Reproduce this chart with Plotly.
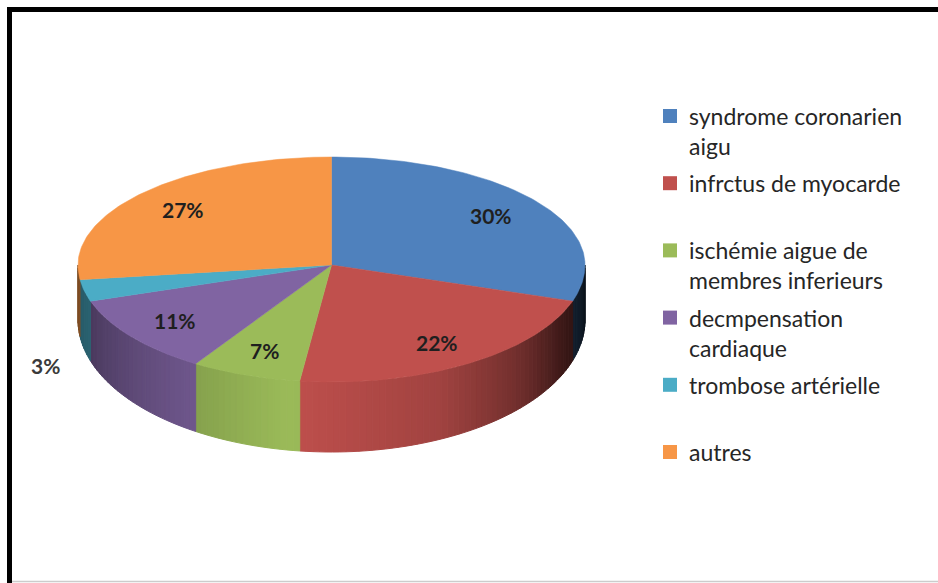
import math
import numpy as np
import plotly.graph_objects as go

# ---------------- data ----------------
labels = [
    "syndrome coronarien<br>aigu",
    "infrctus de myocarde",
    "ischémie aigue de<br>membres inferieurs",
    "decmpensation<br>cardiaque",
    "trombose artérielle",
    "autres",
]
values = [30, 22, 7, 11, 3, 27]
colors = ["#4F81BD", "#C0504D", "#9BBB59", "#8064A2", "#4BACC6", "#F79646"]

# ---------------- geometry (layout constants, pixel space) ----------------
W, H = 938, 583
CX, RX = 331.5, 253.5
CY = 265.0
RY_UP, RY_DN = 108.0, 117.0
D_SIDE, RY_DN_B = 55.0, 132.0
START = 90.0


def top_pt(phi):
    r = math.radians(phi)
    s = math.sin(r)
    ry = RY_UP if s > 0 else RY_DN
    return CX + RX * math.cos(r), CY - ry * s


def bot_pt(phi):
    r = math.radians(phi)
    s = math.sin(r)
    ry = RY_UP if s > 0 else RY_DN_B
    return CX + RX * math.cos(r), CY + D_SIDE - ry * s


def hex_to_rgb(h):
    h = h.lstrip("#")
    return tuple(int(h[i:i + 2], 16) for i in (0, 2, 4))


def shade(hexcol, f):
    r, g, b = hex_to_rgb(hexcol)
    return "rgb(%d,%d,%d)" % (r * f, g * f, b * f)


shade_xp = [-180, -165, -130, -100, -65, -42, -26, -10, 0]
shade_fp = [0.50, 0.56, 0.82, 1.0, 0.84, 0.58, 0.33, 0.19, 0.12]

fig = go.Figure()

total = float(sum(values))
bounds = []
a = START
for v in values:
    b = a - 360.0 * v / total
    bounds.append((a, b))
    a = b

# ---- side walls (front half only), with gradient ----
for (a, b), col in zip(bounds, colors):
    for k in (0, 1):
        lo = max(b, -180.0 - 360 * k)
        hi = min(a, 0.0 - 360 * k)
        if hi <= lo:
            continue
        n = max(1, int(math.ceil((hi - lo) / 1.5)))
        edges = np.linspace(hi, lo, n + 1)
        for p1, p2 in zip(edges[:-1], edges[1:]):
            mid = 0.5 * (p1 + p2) + 360 * k
            f = float(np.interp(mid, shade_xp, shade_fp))
            c = shade(col, f)
            pts = [top_pt(p1), top_pt(p2), bot_pt(p2), bot_pt(p1)]
            xs = [p[0] for p in pts] + [pts[0][0]]
            ys = [p[1] for p in pts] + [pts[0][1]]
            fig.add_trace(go.Scatter(
                x=xs, y=ys, mode="lines", fill="toself",
                fillcolor=c, line=dict(color=c, width=1),
                hoverinfo="skip", showlegend=False))

# ---- top faces ----
for (a, b), col in zip(bounds, colors):
    n = max(2, int(abs(a - b) / 1.0))
    phis = np.linspace(a, b, n + 1)
    xs = [CX]
    ys = [CY]
    for p in phis:
        x, y = top_pt(p)
        xs.append(x)
        ys.append(y)
    xs.append(CX)
    ys.append(CY)
    fig.add_trace(go.Scatter(
        x=xs, y=ys, mode="lines", fill="toself",
        fillcolor=col, line=dict(color=col, width=0.5),
        hoverinfo="skip", showlegend=False))

annotations = []

# ---- percentage labels ----
for (a, b), v in zip(bounds, values):
    mid = 0.5 * (a + b)
    pct = "%d%%" % round(100 * v / total)
    r = math.radians(mid)
    if v / total >= 0.05:
        f = 0.78
        s = math.sin(r)
        ry = RY_UP if s > 0 else RY_DN
        x = CX + RX * f * math.cos(r)
        y = CY - ry * f * s
        annotations.append(dict(x=x, y=y, xref="x", yref="y", text=pct,
                                showarrow=False, xanchor="center", yanchor="middle",
                                font=dict(family="Lato", size=21, color="#1f1f1f",
                                          weight="bold")))
    else:
        f = 1.09
        x = CX + RX * f * math.cos(r)
        y = CY + D_SIDE - RY_DN_B * f * math.sin(r)
        annotations.append(dict(x=x, y=y, xref="x", yref="y", text=pct,
                                showarrow=False, xanchor="right", yanchor="top",
                                font=dict(family="Lato", size=21, color="#3a3a3a",
                                          weight="bold")))

# ---- legend (manual) ----
LEG_X, LEG_TX, LEG_Y0, LEG_DY = 670, 687, 116, 67.2
for i, (lab, col) in enumerate(zip(labels, colors)):
    y = LEG_Y0 + i * LEG_DY
    fig.add_trace(go.Scatter(
        x=[LEG_X], y=[y], mode="markers",
        marker=dict(symbol="square", size=14, color=col, line=dict(width=0)),
        hoverinfo="skip", showlegend=False))
    annotations.append(dict(x=LEG_TX, y=y - 16, xref="x", yref="y", text=lab,
                            showarrow=False, xanchor="left", yanchor="top", align="left",
                            font=dict(family="Lato", size=23, color="#262626")))

shapes = [
    dict(type="rect", xref="x", yref="y", x0=7, x1=W, y0=7, y1=12,
         fillcolor="black", line=dict(width=0), layer="above"),
    dict(type="rect", xref="x", yref="y", x0=7, x1=12, y0=7, y1=H,
         fillcolor="black", line=dict(width=0), layer="above"),
    dict(type="line", xref="x", yref="y", x0=12, x1=W, y0=581.5, y1=581.5,
         line=dict(color="#cccccc", width=1.5), layer="above"),
]

fig.update_layout(
    width=W, height=H, autosize=False,
    margin=dict(l=0, r=0, t=0, b=0),
    paper_bgcolor="white", plot_bgcolor="white",
    xaxis=dict(range=[0, W], visible=False, fixedrange=True),
    yaxis=dict(range=[H, 0], visible=False, fixedrange=True),
    annotations=annotations, shapes=shapes,
    showlegend=False,
)

fig.write_html(
    "out.html",
    config={"displayModeBar": False},
    post_script="document.body.style.margin='0px';document.body.style.overflow='hidden';",
)
